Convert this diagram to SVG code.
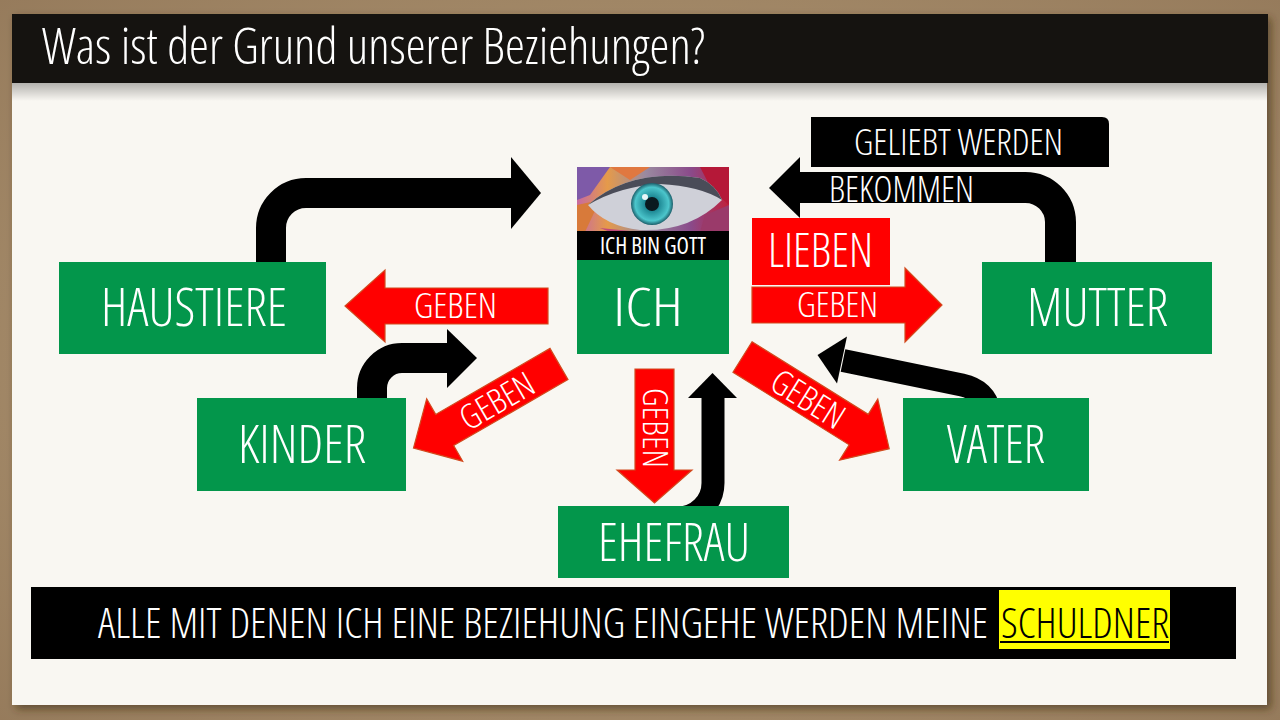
<svg xmlns="http://www.w3.org/2000/svg" width="1280" height="720" viewBox="0 0 1280 720">
<defs>
<style>
.t{font-family:"Open Sans","Liberation Sans",sans-serif;font-weight:300;font-stretch:75%;fill:#ffffff}
.node{fill:#03964b}
.red{fill:#ff0000;stroke:#d24a1e;stroke-width:1.2}
.band{fill:none;stroke:#000000}
.head{fill:#000000}
</style>
<radialGradient id="frame" cx="50%" cy="50%" r="75%">
<stop offset="0" stop-color="#b8a07c"/>
<stop offset="1" stop-color="#94795a"/>
</radialGradient>
<linearGradient id="tshadow" x1="0" y1="0" x2="0" y2="1">
<stop offset="0" stop-color="#000" stop-opacity="0.28"/>
<stop offset="1" stop-color="#000" stop-opacity="0"/>
</linearGradient>
<linearGradient id="eyebg" x1="0" y1="0" x2="1" y2="0">
<stop offset="0" stop-color="#c76aa0"/>
<stop offset="0.2" stop-color="#e59a4a"/>
<stop offset="0.45" stop-color="#9a8aa0"/>
<stop offset="0.75" stop-color="#8a4a8a"/>
<stop offset="1" stop-color="#c0203a"/>
</linearGradient>
<radialGradient id="iris" cx="50%" cy="50%" r="50%">
<stop offset="0" stop-color="#0c3a44"/>
<stop offset="0.35" stop-color="#1f8a96"/>
<stop offset="0.8" stop-color="#4cc6cc"/>
<stop offset="1" stop-color="#1b5e6a"/>
</radialGradient>
<filter id="sh" x="-5%" y="-5%" width="110%" height="110%">
<feDropShadow dx="4" dy="4" stdDeviation="4" flood-color="#3a2a18" flood-opacity="0.6"/>
</filter>
</defs>

<rect x="0" y="0" width="1280" height="720" fill="url(#frame)"/>
<rect x="12" y="14" width="1255" height="691" fill="#f9f7f2" filter="url(#sh)"/>
<rect x="12" y="83" width="1255" height="18" fill="url(#tshadow)"/>
<rect x="12" y="14" width="1256" height="69" fill="#151310"/>
<text class="t" x="42" y="64" font-size="50" textLength="663" lengthAdjust="spacingAndGlyphs">Was ist der Grund unserer Beziehungen?</text>

<g id="connectors">
<!-- HAUSTIERE to ICH -->
<path class="band" stroke-width="30" d="M 271 272 L 271 228 A 35 35 0 0 1 306 193 L 512 193"/>
<polygon class="head" points="511,157 541,193 511,229"/>
<!-- MUTTER to ICH -->
<path class="band" stroke-width="31" d="M 1060.5 270 L 1060.5 222 A 35 35 0 0 0 1025.5 187.5 L 799 187.5"/>
<polygon class="head" points="800,157 769,188 800,218"/>
<!-- KINDER to HAUSTIERE side -->
<path class="band" stroke-width="30" d="M 372 406 L 372 388 A 30 30 0 0 1 402 358 L 448 358"/>
<polygon class="head" points="447,329 477,358 447,388"/>
<!-- VATER to ICH -->
<path class="band" stroke-width="23" d="M 843 360.5 L 962 385 Q 985 390 990 412"/>
<polygon class="head" points="847,336.5 817.5,355 837,383.5"/>
<!-- EHEFRAU to ICH -->
<path class="band" stroke-width="23" d="M 650 518 L 678 518 A 35 35 0 0 0 713 483 L 713 397"/>
<polygon class="head" points="688,398 712.5,373 737,398"/>

<!-- red GEBEN arrows -->
<polygon class="red" points="548,288 385,288 385,270 345,306 385,342 385,324 548,324"/>
<text class="t" x="414" y="318" font-size="34" textLength="83" lengthAdjust="spacingAndGlyphs">GEBEN</text>

<polygon class="red" points="752,287 905,287 905,268 942,305 905,342 905,323 752,323"/>
<text class="t" x="797" y="317" font-size="34" textLength="81" lengthAdjust="spacingAndGlyphs">GEBEN</text>

<polygon class="red" transform="translate(559,364) rotate(150)" points="0,-18 132,-18 132,-36 168,0 132,36 132,18 0,18"/>
<text class="t" transform="translate(497,401) rotate(-30)" x="0" y="12" text-anchor="middle" font-size="34" textLength="80" lengthAdjust="spacingAndGlyphs">GEBEN</text>

<polygon class="red" transform="translate(742.5,357) rotate(32)" points="0,-18 137,-18 137,-36 173,0 137,36 137,18 0,18"/>
<text class="t" transform="translate(808,399) rotate(32)" x="0" y="12" text-anchor="middle" font-size="34" textLength="80" lengthAdjust="spacingAndGlyphs">GEBEN</text>

<polygon class="red" points="635,369 674,369 674,470 692,470 654.5,503 617,470 635,470"/>
<text class="t" transform="translate(655,428) rotate(90)" x="0" y="12" text-anchor="middle" font-size="34" textLength="80" lengthAdjust="spacingAndGlyphs">GEBEN</text>

<!-- labels on MUTTER connection -->
<path d="M 811 117 L 1102 117 Q 1109 117 1109 124 L 1109 167 L 811 167 Z" fill="#000000"/>
<text class="t" x="854" y="155" font-size="37" textLength="209" lengthAdjust="spacingAndGlyphs">GELIEBT WERDEN</text>
<text class="t" x="829" y="202" font-size="37" textLength="145" lengthAdjust="spacingAndGlyphs">BEKOMMEN</text>
<rect x="752" y="218" width="138" height="67" fill="#ff0000"/>
<text class="t" x="768" y="267" font-size="47" textLength="105" lengthAdjust="spacingAndGlyphs">LIEBEN</text>
</g>

<g id="node-haustiere">
<rect class="node" x="59" y="262" width="267" height="92"/>
<text class="t" x="101" y="326" font-size="54" textLength="186" lengthAdjust="spacingAndGlyphs">HAUSTIERE</text>
</g>

<g id="node-ich">
<rect x="577" y="167" width="152" height="65" fill="url(#eyebg)"/>
<polygon points="577,167 610,167 590,195 577,200" fill="#7e5aa8"/>
<polygon points="610,167 650,167 630,180" fill="#e07840"/>
<polygon points="700,167 729,167 729,205 712,190" fill="#b51838"/>
<polygon points="577,205 600,200 585,232 577,232" fill="#d87a3a"/>
<polygon points="705,215 729,205 729,232 700,232" fill="#9a3a6a"/>
<polygon points="600,228 640,232 610,232" fill="#c04a7a"/>
<path d="M 588 205 Q 630 168 700 178 Q 716 185 722 200 Q 690 232 640 230 Q 605 226 588 205 Z" fill="#cfd0d8"/>
<path d="M 588 205 Q 630 168 700 178 Q 716 185 722 200 Q 700 186 660 184 Q 620 186 588 205 Z" fill="#4a4c58"/>
<circle cx="652" cy="204" r="21" fill="url(#iris)"/>
<circle cx="652" cy="204" r="7" fill="#0a1a20"/>
<circle cx="645" cy="197" r="3" fill="#e8f6f8"/>
<rect x="577" y="231" width="152" height="29" fill="#000000"/>
<text class="t" x="600" y="254" font-size="24" textLength="106" lengthAdjust="spacingAndGlyphs" style="font-weight:400">ICH BIN GOTT</text>
<rect class="node" x="577" y="260" width="152" height="94"/>
<text class="t" x="613" y="326" font-size="54" textLength="70" lengthAdjust="spacingAndGlyphs">ICH</text>
</g>

<g id="node-mutter">
<rect class="node" x="982" y="262" width="230" height="92"/>
<text class="t" x="1027" y="326" font-size="54" textLength="141" lengthAdjust="spacingAndGlyphs">MUTTER</text>
</g>

<g id="node-kinder">
<rect class="node" x="197" y="398" width="209" height="93"/>
<text class="t" x="238" y="463" font-size="54" textLength="128" lengthAdjust="spacingAndGlyphs">KINDER</text>
</g>

<g id="node-vater">
<rect class="node" x="903" y="398" width="186" height="93"/>
<text class="t" x="947" y="463" font-size="54" textLength="98" lengthAdjust="spacingAndGlyphs">VATER</text>
</g>

<g id="node-ehefrau">
<rect class="node" x="558" y="506" width="231" height="72"/>
<text class="t" x="598" y="561" font-size="54" textLength="152" lengthAdjust="spacingAndGlyphs">EHEFRAU</text>
</g>

<g id="footer">
<rect x="31" y="587" width="1205" height="72" fill="#000000"/>
<text class="t" x="98" y="638" font-size="42" textLength="890" lengthAdjust="spacingAndGlyphs">ALLE MIT DENEN ICH EINE BEZIEHUNG EINGEHE WERDEN MEINE</text>
<rect x="999" y="590" width="171" height="59" fill="#ffff00"/>
<text class="t" x="1001" y="638" font-size="42" textLength="168" lengthAdjust="spacingAndGlyphs" style="fill:#000000">SCHULDNER</text>
<line x1="1000" y1="642" x2="1169" y2="642" stroke="#000000" stroke-width="2"/>
</g>
</svg>
